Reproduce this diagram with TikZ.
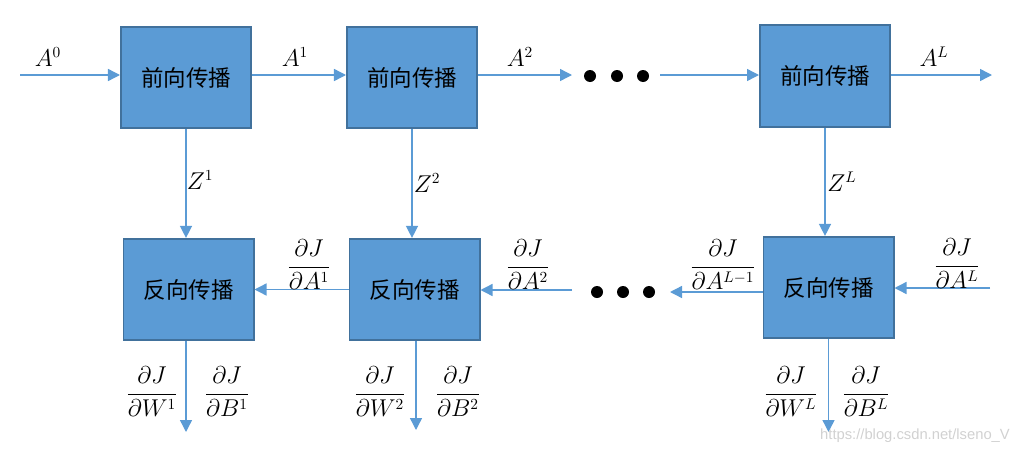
\documentclass[tikz,border=0pt]{standalone}
\usepackage{amsmath,amssymb}
\usepackage{fontspec}
\newfontfamily\cjk{Noto Sans CJK SC}
\newfontfamily\wmfont{Liberation Sans}
\usetikzlibrary{arrows.meta}
\definecolor{boxfill}{HTML}{5B9BD5}
\definecolor{boxline}{HTML}{41719C}
\tikzset{
	blk/.style={draw=boxline,line width=1.4pt,fill=boxfill,minimum width=3.25cm,minimum height=2.53cm,font=\cjk\fontsize{16}{18}\selectfont},
	arr/.style={draw=boxfill,line width=1pt,-{Triangle[length=0.3cm,width=0.3cm]}},
	lbl/.style={font=\fontsize{16}{19}\selectfont,inner sep=0pt}
}

\begin{document}
\begin{tikzpicture}[x=0.025cm,y=-0.025cm]
		\useasboundingbox (0,0) rectangle (1026,454);
		\newcommand{\dotr}{0.15cm}
		%前向
		\node[blk] (f1) at (186,77.5) {前向传播};
		\node[blk] (f2) at (412,77.5) {前向传播};
		\node[blk] (fL) at (825,76) {前向传播};
		%反向
		\node[blk] (b1) at (188.5,289.5) {反向传播};
		\node[blk] (b2) at (414.5,289.5) {反向传播};
		\node[blk] (bL) at (828.5,287.5) {反向传播};
		\coordinate (in0) at (20,75); %A0
		\coordinate (outL) at (992,75); %AL
		\coordinate (a2end) at (572,75);
		\coordinate (dotsout) at (660,75);
		\coordinate (dinL) at (990,288);
		\coordinate (dotsin) at (572,290);
		\coordinate (dout) at (670,292);
		\coordinate (w1) at (186,432);
		\coordinate (w2) at (416,430);
		\coordinate (wL) at (828.5,432);
		%上の矢印
		\draw[arr] (in0) -- (in0 -| f1.west);
		\draw[arr] (f1.east |- in0) -- (f2.west |- in0);
		\draw[arr] (f2.east |- in0) -- (a2end);
		\draw[arr] (dotsout) -- (fL.west |- dotsout);
		\draw[arr] (fL.east |- outL) -- (outL);
		\foreach \x in {590,617,643}{ %点
			\fill (\x,76) circle[radius=\dotr];
		}
		%Z
		\draw[arr] (f1.south) -- (b1.north -| f1.south);
		\draw[arr] (f2.south) -- (b2.north -| f2.south);
		\draw[arr] (fL.south) -- (bL.north -| fL.south);
		%下の矢印
		\draw[arr] (b2.west) -- (b1.east);
		\draw[arr] (dotsin) -- (b2.east |- dotsin);
		\draw[arr] (bL.west |- dout) -- (dout);
		\draw[arr] (dinL) -- (bL.east |- dinL);
		\foreach \x in {597,623,649}{
			\fill (\x,292) circle[radius=\dotr];
		}
		\draw[arr] (b1.south -| w1) -- (w1);
		\draw[arr] (b2.south -| w2) -- (w2);
		\draw[arr] (bL.south -| wL) -- (wL);
		%ラベル
		\node[lbl] (la0) at (48,57) {$A^0$};
		\node[lbl] (la1) at (295,57) {$A^1$};
		\node[lbl] (la2) at (520,57) {$A^2$};
		\node[lbl] (laL) at (934,57) {$A^L$};
		\node[lbl] (lz1) at (200,180) {$Z^1$};
		\node[lbl] (lz2) at (427,183) {$Z^2$};
		\node[lbl] (lzL) at (842,182) {$Z^L$};
		\node[lbl] (lda1) at (309,265) {$\dfrac{\partial J}{\partial A^1}$};
		\node[lbl] (lda2) at (528,265) {$\dfrac{\partial J}{\partial A^2}$};
		\node[lbl] (ldaL1) at (723,265) {$\dfrac{\partial J}{\partial A^{L-1}}$};
		\node[lbl] (ldaL) at (957,264) {$\dfrac{\partial J}{\partial A^L}$};
		\node[lbl] (ldw1) at (152,392) {$\dfrac{\partial J}{\partial W^1}$};
		\node[lbl] (ldb1) at (227,392) {$\dfrac{\partial J}{\partial B^1}$};
		\node[lbl] (ldw2) at (380,392) {$\dfrac{\partial J}{\partial W^2}$};
		\node[lbl] (ldb2) at (458,392) {$\dfrac{\partial J}{\partial B^2}$};
		\node[lbl] (ldwL) at (791,392) {$\dfrac{\partial J}{\partial W^L}$};
		\node[lbl] (ldbL) at (866,392) {$\dfrac{\partial J}{\partial B^L}$};
		\node[text=black!18,font=\wmfont\fontsize{10.5}{12}\selectfont] (wm) at (915,436) {https://blog.csdn.net/lseno\_V};
	\end{tikzpicture}
\end{document}
